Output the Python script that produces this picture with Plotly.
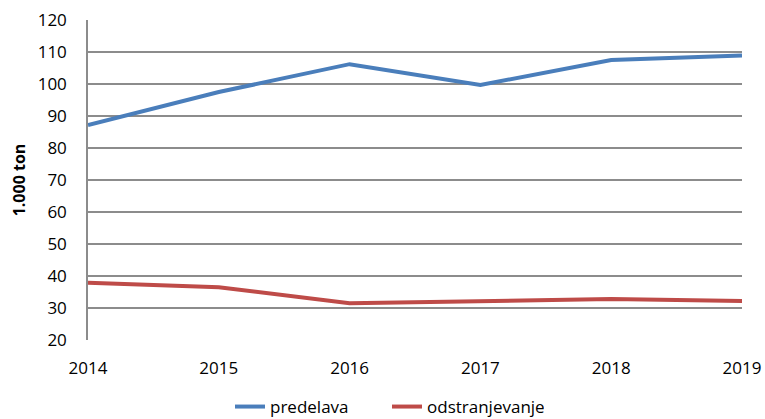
import plotly.graph_objects as go

years = [2014, 2015, 2016, 2017, 2018, 2019]
predelava = [87.2, 97.5, 106.2, 99.7, 107.5, 108.9]
odstranjevanje = [37.9, 36.5, 31.5, 32.2, 32.8, 32.2]
y_ticks = list(range(20, 121, 10))

fig = go.Figure()
fig.add_trace(go.Scatter(x=years, y=predelava, mode="lines", name="predelava",
                         line=dict(color="#4A7EBB", width=4)))
fig.add_trace(go.Scatter(x=years, y=odstranjevanje, mode="lines", name="odstranjevanje",
                         line=dict(color="#BE4B48", width=4)))

font_family = "Open Sans, Liberation Sans, sans-serif"
fig.update_layout(
    width=765, height=419,
    margin=dict(l=88, r=23, t=20, b=79, autoexpand=False),
    plot_bgcolor="white", paper_bgcolor="white",
    font=dict(family=font_family, size=17, color="#000"),
    showlegend=True,
    legend=dict(orientation="h", x=(230 - 88) / 654, xanchor="left",
                y=-(407 - 340) / 320, yanchor="middle",
                font=dict(size=17), tracegroupgap=0, bgcolor="rgba(0,0,0,0)",
                entrywidth=112, entrywidthmode="pixels"),
    xaxis=dict(range=[2014, 2019], tickvals=years, ticktext=[str(y) for y in years],
               showgrid=False, zeroline=False, showline=False, ticks="",
               ticklabelstandoff=16, tickfont=dict(size=17), automargin=False),
    yaxis=dict(range=[20, 120], tickvals=y_ticks, showgrid=True, gridcolor="#8C8C8C",
               gridwidth=1.5, zeroline=False, showline=True, linecolor="#8C8C8C",
               linewidth=1.5, ticks="", ticklabelstandoff=16, automargin=False,
               title=dict(text="<b>1.000 ton</b>", font=dict(size=16), standoff=8),
               tickfont=dict(size=17)),
)
fig.write_html("out.html", config={"displayModeBar": False},
               post_script="document.body.style.margin='0';document.body.style.overflow='hidden';")
